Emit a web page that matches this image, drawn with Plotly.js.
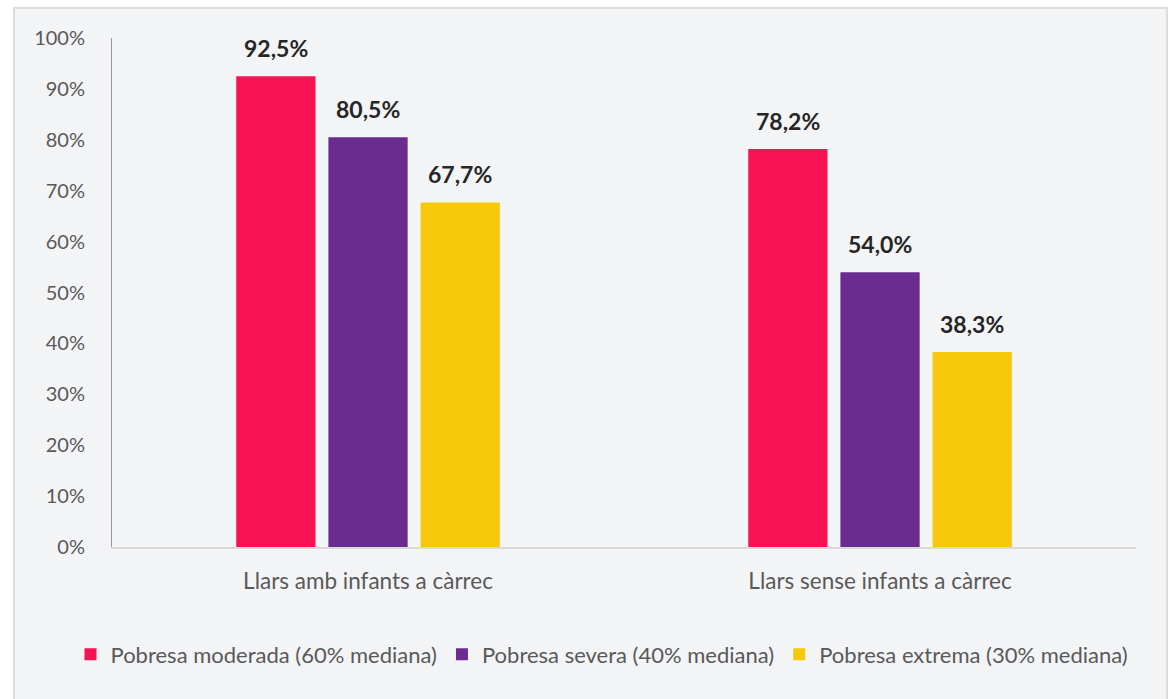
<!DOCTYPE html>
<html><head><meta charset="utf-8">
<script src="https://cdn.plot.ly/plotly-3.0.1.min.js"></script>
<style>
html,body{margin:0;padding:0;background:#fff;}
#box{position:absolute;left:13px;top:7px;width:1151px;height:700px;background:#f3f4f6;border:2px solid #dcdcdc;border-bottom:none;}
#chart{width:1151px;height:700px;}
</style></head><body>
<div id="box"><div id="chart"></div></div>
<script>
const categories = ["Llars amb infants a càrrec", "Llars sense infants a càrrec"];
const seriesNames = ["Pobresa moderada (60% mediana)", "Pobresa severa (40% mediana)", "Pobresa extrema (30% mediana)"];
const moderada = [92.5, 78.2];
const severa = [80.5, 54.0];
const extrema = [67.7, 38.3];
const colors = ["#f71254", "#6a2c91", "#f5c90a"];
const series = [moderada, severa, extrema];
const font = "Lato, 'Open Sans', sans-serif";
const traces = series.map((vals, i) => ({
  type: "bar", x: categories, y: vals, name: seriesNames[i],
  marker: {color: colors[i]},
  hoverinfo: "skip"
}));
const annotations = [];
series.forEach((vals, i) => {
  vals.forEach((v, j) => {
    annotations.push({
      x: categories[j], y: v, xref: "x", yref: "y",
      text: v.toFixed(1).replace(".", ",") + "%",
      showarrow: false, yanchor: "bottom", xanchor: "center",
      xshift: (i - 1) * 92, yshift: 12,
      font: {family: font, size: 23, color: "#262626", weight: "bold"}
    });
  });
});
const layout = {
  paper_bgcolor: "#f3f4f6", plot_bgcolor: "#f3f4f6",
  margin: {l: 20, r: 10, t: 29, b: 162},
  barmode: "group", bargap: 0.46, bargroupgap: 0.14,
  font: {family: font, size: 22, color: "#595959"},
  xaxis: {domain: [0.0687, 0.9822], showline: true, linecolor: "#d9d9d9", linewidth: 2, ticks: "", tickfont: {size: 22.5, color: "#595959"}, ticklabelstandoff: 13, automargin: false},
  yaxis: {range: [0, 100], dtick: 10, ticksuffix: "%", showgrid: false, zeroline: false, automargin: false,
          showline: true, linecolor: "#999999", linewidth: 1, ticks: "", ticklabelstandoff: 22,
          tickfont: {size: 20, color: "#595959"}},
  legend: {orientation: "h", xref: "container", yref: "container", x: 0.51, xanchor: "center", y: 0.078, yanchor: "middle",
           font: {size: 22, color: "#595959"}, traceorder: "normal", itemclick: false, itemwidth: 30},
  annotations: annotations,
  showlegend: true
};
Plotly.newPlot("chart", traces, layout, {displayModeBar: false, staticPlot: true});
</script></body></html>
